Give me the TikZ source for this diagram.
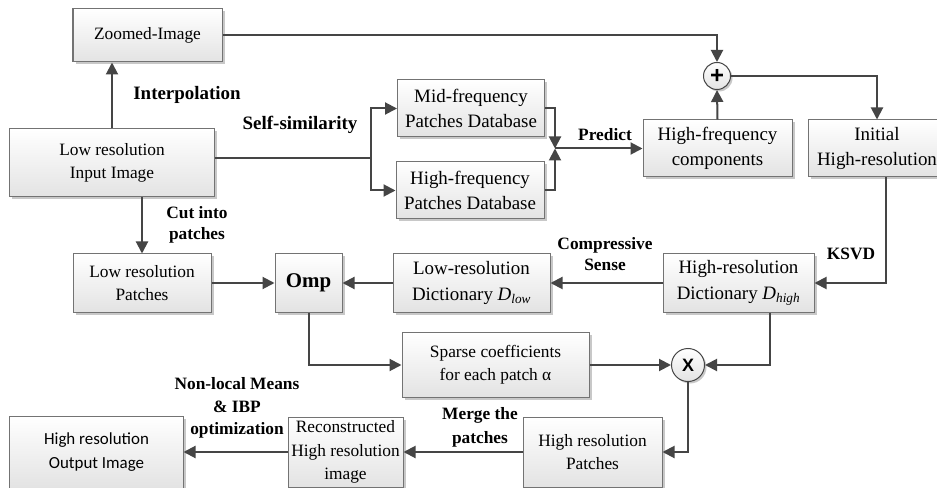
\documentclass[tikz,border=0pt]{standalone}
\usepackage{fontspec}
\setmainfont{Liberation Serif}
\newfontfamily\calib{Carlito}
\newfontfamily\arialf{Liberation Sans}
\usetikzlibrary{arrows.meta,shadows}
\definecolor{lc}{HTML}{454545}
\definecolor{bc}{HTML}{737373}
\newcommand{\subi}[1]{\textsubscript{\textit{#1}}}
\begin{document}
\begin{tikzpicture}[x=1bp,y=-1bp,
  box/.style={draw=bc, line width=1bp, top color=white, bottom color=gray!22,
    drop shadow={shadow xshift=2.5bp,shadow yshift=-2.5bp,fill=gray!60,opacity=.7},
    align=center, inner sep=0pt, font=\rmfamily\fontsize{17.4}{23.5}\selectfont},
  boxL/.style={box, font=\rmfamily\fontsize{19}{25.5}\selectfont},
  op/.style={circle, draw=lc, line width=1bp, top color=white, bottom color=gray!22,
    drop shadow={shadow xshift=2bp,shadow yshift=-2bp,fill=gray!60,opacity=.7},
    inner sep=0pt, font=\arialf\bfseries\fontsize{18}{18}\selectfont},
  arr/.style={draw=lc, line width=2bp, -{Triangle[length=12bp,width=12bp]}},
  ln/.style={draw=lc, line width=2bp},
  lab/.style={font=\rmfamily\bfseries\fontsize{17.4}{21.5}\selectfont, align=center, inner sep=0pt},
  labL/.style={lab, font=\rmfamily\bfseries\fontsize{19}{22}\selectfont}]
\clip (0,0) rectangle (937,488);
\fill[white] (0,0) rectangle (937,488);
% boxes
\node[box, minimum width=149bp, minimum height=53bp] (zoomed) at (147.5,35.5) {Zoomed-Image};
\node[box, minimum width=204bp, minimum height=68bp] (lowin) at (112,163) {Low resolution\\Input Image};
\node[boxL, minimum width=147bp, minimum height=57bp] (middb) at (471,108.5) {Mid-frequency\\Patches Database};
\node[boxL, minimum width=148bp, minimum height=57bp] (highdb) at (470,190.5) {High-frequency\\Patches Database};
\node[boxL, minimum width=149bp, minimum height=57bp] (hfc) at (717.5,148.5) {High-frequency\\components};
\node[boxL, minimum width=138bp, minimum height=57bp] (init) at (877,148.5) {Initial\\High-resolution};
\node[op, minimum size=27bp, font=\arialf\bfseries\fontsize{24}{24}\selectfont] (plus) at (717,76) {+};
\node[box, minimum width=138bp, minimum height=58bp] (lrp) at (142,283) {Low resolution\\Patches};
\node[box, minimum width=67bp, minimum height=58bp, font=\rmfamily\bfseries\fontsize{21}{23}\selectfont] (omp) at (308.5,283) {Omp};
\node[boxL, minimum width=157bp, minimum height=58bp] (dlow) at (471.5,283) {Low-resolution\\Dictionary \textit{D}\subi{low}};
\node[boxL, minimum width=151bp, minimum height=58bp] (dhigh) at (738.5,283) {High-resolution\\Dictionary \textit{D}\subi{high}};
\node[box, minimum width=187bp, minimum height=64bp] (sparse) at (495.5,365) {Sparse coefficients\\for each patch α};
\node[op, minimum size=33bp] (mult) at (688,365) {X};
\node[box, minimum width=139bp, minimum height=70bp] (hrp) at (592.5,452) {High resolution\\Patches};
\node[box, minimum width=115bp, minimum height=70bp] (recon) at (345.5,452) {Reconstructed\\High resolution\\image};
\node[box, minimum width=173bp, minimum height=72bp, font=\calib\fontsize{17}{24}\selectfont] (out) at (96.5,452) {High resolution\\Output Image};
% helper coordinates
\coordinate (J) at (555,148.5);
\coordinate (S) at (371,158);
\coordinate (K) at (886,283);
\coordinate (M) at (770,365);
% connectors
\draw[arr] (zoomed.east) -| (plus.north);
\draw[arr] (plus.east) -| (init.north);
\draw[arr] (hfc.north) -- (plus.south);
\draw[arr] (middb.east) -| (J);
\draw[arr] (highdb.east) -| (J);
\draw[arr] (J) -- (hfc.west);
\draw[ln] (S -| lowin.east) -- (S);
\draw[arr] (S) |- (middb.west);
\draw[arr] (S) |- (highdb.west);
\draw[arr] (lowin.north) -- (lowin.north |- zoomed.south);
\draw[arr] (lowin.south -| lrp.north) -- (lrp.north);
\draw[arr] (lrp.east) -- (omp.west);
\draw[arr] (dlow.west) -- (omp.east);
\draw[arr] (dhigh.west) -- (dlow.east);
\draw[arr] (init.south -| K) |- (dhigh.east);
\draw[arr] (omp.south) |- (sparse.west);
\draw[arr] (sparse.east) -- (mult.west);
\draw[arr] (dhigh.south -| M) |- (mult.east);
\draw[arr] (mult.south) |- (hrp.east);
\draw[arr] (hrp.west) -- (recon.east);
\draw[arr] (recon.west) -- (out.east);
% labels
\node[labL] (l1) at (187,95) {Interpolation};
\node[labL] (l2) at (300,125) {Self-similarity};
\node[lab] (l3) at (197,225) {Cut into\\patches};
\node[lab] (l4) at (605,135) {Predict};
\node[lab] (l5) at (605,254) {Compressive\\Sense};
\node[lab] (l6) at (851,254) {KSVD};
\node[lab, font=\rmfamily\bfseries\fontsize{17.4}{24}\selectfont] (l7) at (480,427) {Merge the\\patches};
\node[lab, font=\rmfamily\bfseries\fontsize{17.4}{22.5}\selectfont] (l8) at (237,408) {Non-local Means\\\& IBP\\optimization};
\end{tikzpicture}
\end{document}
